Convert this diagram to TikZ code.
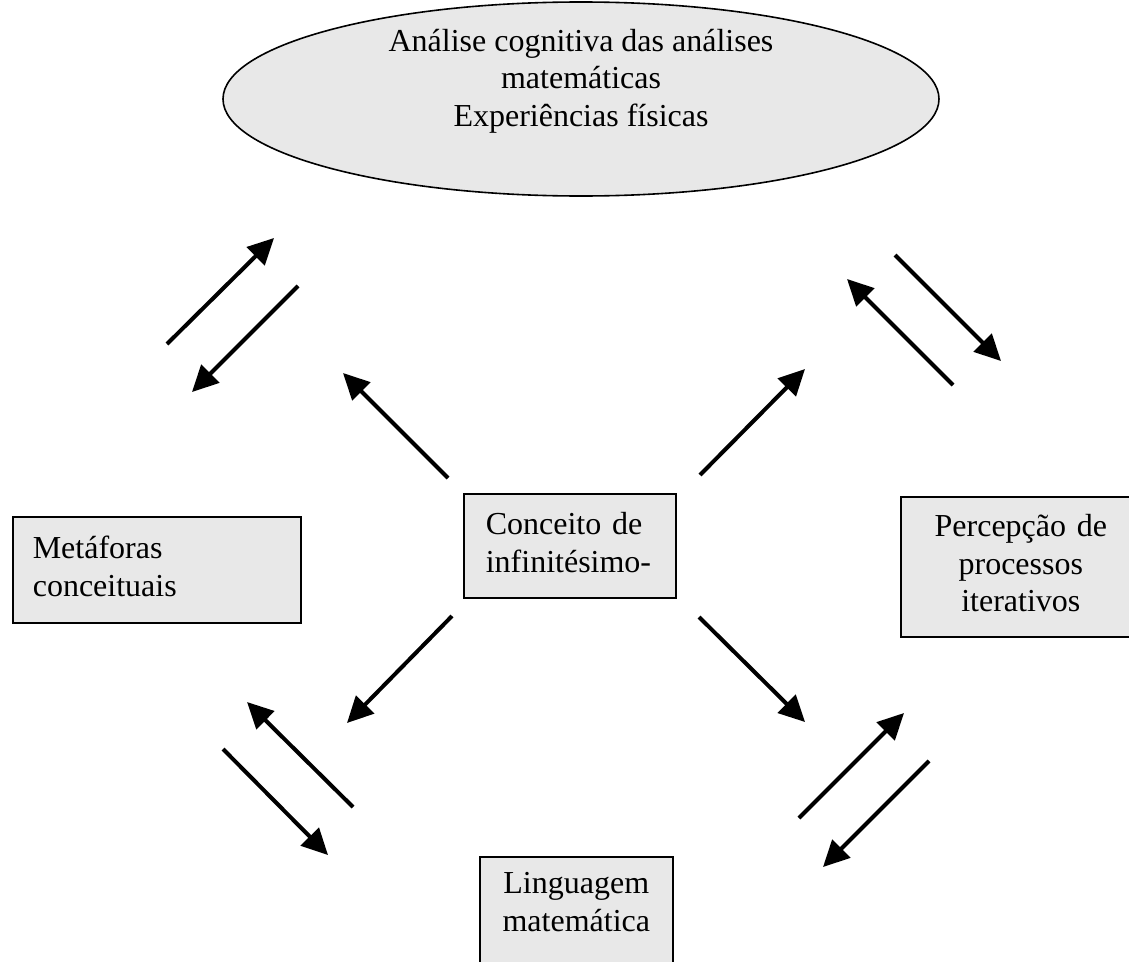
\documentclass[tikz,border=0pt]{standalone}
\usepackage{fontspec}
\setmainfont{Liberation Serif}
\usetikzlibrary{arrows.meta,shapes.geometric}
\definecolor{boxgray}{RGB}{232,232,232}
\begin{document}
\begin{tikzpicture}[x=1pt,y=-1pt,
  txt/.style={font=\fontsize{32}{37.5}\selectfont},
  box/.style={draw=black, line width=1.6pt, fill=boxgray, txt, inner ysep=0pt},
  arr/.style={line width=4pt, -{Triangle[length=26pt,width=25pt]}}]
\useasboundingbox (0,0) rectangle (1129,961);
\clip (0,0) rectangle (1129,961);

% top ellipse
\node[draw=black, line width=1.6pt, fill=boxgray, ellipse, minimum width=716pt, minimum height=194pt] (topell) at (581,99) {};
\node[txt, align=center, anchor=north, inner sep=0pt] (toptxt) at (581,24.75)
  {\strut Análise cognitiva das análises\\matemáticas\\Experiências físicas\strut};

% boxes
\node[box, anchor=north west, text width=248pt, inner xsep=20pt, minimum height=106pt, align=left] (meta) at (12,516)
  {\strut Metáforas\\conceituais\strut};
\node[box, anchor=north west, text width=168pt, inner xsep=22pt, minimum height=104pt, align=left] (conc) at (463,493)
  {\strut Conceito de\\infinitésimo-\strut};
\node[box, anchor=north west, text width=216pt, inner xsep=12pt, minimum height=140pt, align=center] (perc) at (900,496)
  {\strut Percepção de\\processos\\iterativos\strut};
\node[box, anchor=north west, text width=193pt, inner xsep=0pt, inner ysep=10.75pt, align=center] (ling) at (479,856)
  {\strut Linguagem\\matemática\rule[-60pt]{0pt}{0pt}};

% arrow end points
\coordinate (tlAs) at (167,344); \coordinate (tlAe) at (274,238);
\coordinate (tlBs) at (298,286); \coordinate (tlBe) at (192,392);
\coordinate (cAs) at (448,478);  \coordinate (cAe) at (343,373);
\coordinate (cBs) at (700,475);  \coordinate (cBe) at (805,369);
\coordinate (cCs) at (452,616);  \coordinate (cCe) at (347,723);
\coordinate (cDs) at (699,617);  \coordinate (cDe) at (805,722);
\coordinate (trAs) at (953,385); \coordinate (trAe) at (847,279);
\coordinate (trBs) at (895,255); \coordinate (trBe) at (1001,361);
\coordinate (blAs) at (353,807); \coordinate (blAe) at (247,702);
\coordinate (blBs) at (223,749); \coordinate (blBe) at (328,855);
\coordinate (brAs) at (799,818); \coordinate (brAe) at (904,713);
\coordinate (brBs) at (929,761); \coordinate (brBe) at (823,867);

\foreach \a in {tlA,tlB,cA,cB,cC,cD,trA,trB,blA,blB,brA,brB}
  \draw[arr] (\a s) -- (\a e);
\end{tikzpicture}
\end{document}
